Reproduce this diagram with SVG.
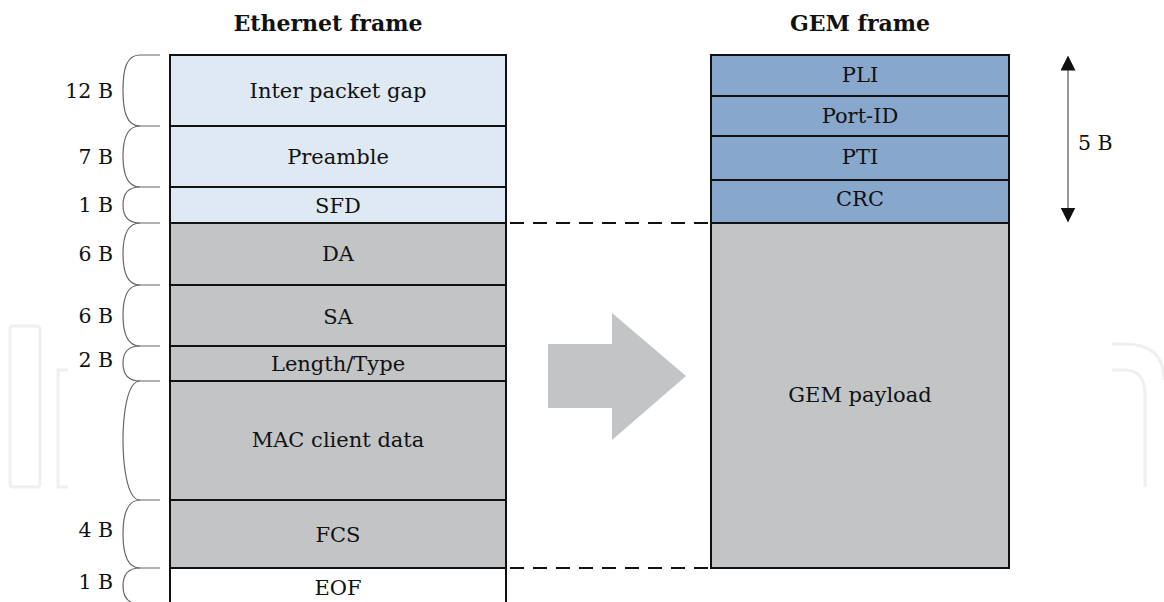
<svg xmlns="http://www.w3.org/2000/svg" width="1164" height="602" viewBox="0 0 1164 602">
<style>
text{font-family:"DejaVu Serif","Liberation Serif",serif;font-size:21px;fill:#111;}
.t{text-anchor:middle;}
.b{text-anchor:end;font-size:20.5px;}
.h{font-weight:bold;font-size:22px;}
.cell{stroke:#111;stroke-width:2;}
.lb{fill:#dfe9f3;}
.gr{fill:#c3c4c6;}
.bl{fill:#87a7cc;}
.br{fill:none;stroke:#666;stroke-width:1.2;}
.wm{fill:none;stroke:#eef0f0;stroke-width:3;}
.dash{stroke:#111;stroke-width:2;stroke-dasharray:14,9;fill:none;}
</style>
<defs>
<marker id="ah" viewBox="0 0 10 10" refX="9" refY="5" markerWidth="15" markerHeight="15" markerUnits="userSpaceOnUse" orient="auto-start-reverse">
<path d="M0,0 L10,5 L0,10 z" fill="#111"/>
</marker>
</defs>
<g id="watermark">
<rect class="wm" x="10" y="326" width="30" height="161" rx="3"/>
<path class="wm" d="M68,370 H58 V487 H68"/>
<path class="wm" d="M1112,370 H1125 Q1145,370 1145,395 V487"/>
<path class="wm" d="M1112,344 H1125 Q1164,344 1164,380"/>
</g>
<g id="titles">
<text class="t h" x="328" y="31">Ethernet frame</text>
<text class="t h" x="860" y="31">GEM frame</text>
</g>
<g id="ethernet">
<g id="ipg"><rect class="cell lb" x="170" y="55" width="336" height="71"/><text class="t" x="338" y="98">Inter packet gap</text></g>
<g id="preamble"><rect class="cell lb" x="170" y="126" width="336" height="61"/><text class="t" x="338" y="164">Preamble</text></g>
<g id="sfd"><rect class="cell lb" x="170" y="187" width="336" height="36"/><text class="t" x="338" y="213">SFD</text></g>
<g id="da"><rect class="cell gr" x="170" y="223" width="336" height="62"/><text class="t" x="338" y="261">DA</text></g>
<g id="sa"><rect class="cell gr" x="170" y="285" width="336" height="61"/><text class="t" x="338" y="324">SA</text></g>
<g id="lt"><rect class="cell gr" x="170" y="346" width="336" height="35"/><text class="t" x="338" y="371">Length/Type</text></g>
<g id="mac"><rect class="cell gr" x="170" y="381" width="336" height="119"/><text class="t" x="338" y="447">MAC client data</text></g>
<g id="fcs"><rect class="cell gr" x="170" y="500" width="336" height="68"/><text class="t" x="338" y="542">FCS</text></g>
<g id="eof"><path class="cell" fill="#fff" d="M170,604 V568 H506 V604"/><text class="t" x="338" y="595">EOF</text></g>
</g>
<g id="gem">
<g id="pli"><rect class="cell bl" x="711" y="55" width="298" height="41"/><text class="t" x="860" y="82">PLI</text></g>
<g id="portid"><rect class="cell bl" x="711" y="96" width="298" height="40"/><text class="t" x="860" y="123">Port-ID</text></g>
<g id="pti"><rect class="cell bl" x="711" y="136" width="298" height="44"/><text class="t" x="860" y="164">PTI</text></g>
<g id="crc"><rect class="cell bl" x="711" y="180" width="298" height="43"/><text class="t" x="860" y="206">CRC</text></g>
<g id="payload"><rect class="cell gr" x="711" y="223" width="298" height="345"/><text class="t" x="860" y="402">GEM payload</text></g>
</g>
<g id="braces">
<path class="br" d="M160,55 H140 C126,55 123,70 123,90 C123,110 126,126 140,126 H160"/>
<path class="br" d="M140,126 C126,126 123,140 123,156 C123,172 126,187 140,187 H160"/>
<path class="br" d="M140,187 C126,187 123,196 123,205 C123,214 126,223 140,223 H160"/>
<path class="br" d="M140,223 C126,223 123,238 123,254 C123,270 126,285 140,285 H160"/>
<path class="br" d="M140,285 C126,285 123,300 123,315 C123,330 126,346 140,346 H160"/>
<path class="br" d="M140,346 C126,346 123,354 123,363 C123,372 126,381 140,381 H160"/>
<path class="br" d="M140,381 C126,381 123,420 123,440 C123,460 126,500 140,500 H160"/>
<path class="br" d="M140,500 C126,500 123,516 123,534 C123,552 126,568 140,568 H160"/>
<path class="br" d="M140,568 C126,568 123,577 123,586 C123,595 126,604 140,604"/>
</g>
<g id="labels">
<text class="b" x="113" y="98">12 B</text>
<text class="b" x="113" y="164">7 B</text>
<text class="b" x="113" y="212">1 B</text>
<text class="b" x="113" y="261">6 B</text>
<text class="b" x="113" y="323">6 B</text>
<text class="b" x="113" y="367">2 B</text>
<text class="b" x="113" y="537">4 B</text>
<text class="b" x="113" y="589">1 B</text>
<text x="1078" y="150" style="font-size:20.5px">5 B</text>
</g>
<g id="connectors">
<line class="dash" x1="510" y1="223" x2="709" y2="223"/>
<line class="dash" x1="510" y1="568" x2="709" y2="568"/>
<line x1="1068" y1="57" x2="1068" y2="221" stroke="#777" stroke-width="1.5" marker-start="url(#ah)" marker-end="url(#ah)"/>
<path d="M548,344 H612 V313 L686,376 L612,440 V408 H548 Z" fill="#c3c4c6"/>
</g>
</svg>
